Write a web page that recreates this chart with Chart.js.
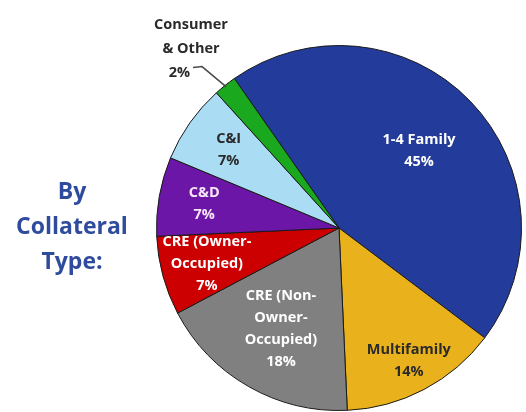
<!DOCTYPE html>
<html>
<head>
<meta charset="utf-8">
<script src="https://cdn.jsdelivr.net/npm/chart.js@4/dist/chart.umd.min.js"></script>
<style>
  html, body { margin: 0; padding: 0; background: #ffffff; }
  #wrap { position: relative; width: 526px; height: 412px; }
  canvas { display: block; }
</style>
</head>
<body>
<div id="wrap"><canvas id="c" width="526" height="412"></canvas></div>
<script>
// ---- Data ----
const categories = ["1-4 Family", "Multifamily", "CRE (Non-Owner-Occupied)", "CRE (Owner-Occupied)", "C&D", "C&I", "Consumer & Other"];
const shares = [45, 14, 18, 7, 7, 7, 2];
const labelLines = [
  ["1-4 Family"],
  ["Multifamily"],
  ["CRE (Non-", "Owner-", "Occupied)"],
  ["CRE (Owner-", "Occupied)"],
  ["C&D"],
  ["C&I"],
  ["Consumer", "& Other"]
];
const sideTitle = ["By", "Collateral", "Type:"];

// ---- Styles ----
const sliceColors = ["#233b9b", "#e9b21c", "#808080", "#cc0000", "#6c16a8", "#aadcf4", "#19a81e"];
const textColors = ["#ffffff", "#2a2a2a", "#ffffff", "#ffffff", "#f6e6f6", "#2a2a2a", "#2a2a2a"];
const labelRadius = [0.61, 0.82, 0.64, 0.75, 0.75, 0.74, null];
const labelFont = "bold 14.5px 'Open Sans', sans-serif";
const lineGap = 22;

const labelPlugin = {
  id: 'sliceLabels',
  afterDatasetsDraw(chart) {
    const ctx = chart.ctx;
    const meta = chart.getDatasetMeta(0);
    ctx.save();
    ctx.font = labelFont;
    ctx.textBaseline = 'middle';
    meta.data.forEach((arc, i) => {
      const p = arc.getProps(['x', 'y', 'startAngle', 'endAngle', 'outerRadius'], true);
      const mid = (p.startAngle + p.endAngle) / 2;
      const lines = labelLines[i].concat([shares[i] + '%']);
      ctx.fillStyle = textColors[i];
      if (labelRadius[i] !== null) {
        const cx = p.x + Math.cos(mid) * p.outerRadius * labelRadius[i];
        const cy = p.y + Math.sin(mid) * p.outerRadius * labelRadius[i];
        const top = cy - (lines.length - 1) * lineGap / 2;
        ctx.textAlign = 'center';
        lines.forEach((t, k) => ctx.fillText(t, cx, top + k * lineGap));
      } else {
        // outside label with leader line
        const la = mid - 0.03;
        const ex = p.x + Math.cos(mid) * p.outerRadius * 0.99;
        const ey = p.y + Math.sin(mid) * p.outerRadius * 0.99;
        const bx = p.x + Math.cos(la) * p.outerRadius * 1.16;
        const by = p.y + Math.sin(la) * p.outerRadius * 1.16;
        const hx = bx - 9;
        ctx.strokeStyle = '#4a4a4a';
        ctx.lineWidth = 1.5;
        ctx.beginPath();
        ctx.moveTo(ex, ey);
        ctx.lineTo(bx, by);
        ctx.lineTo(hx, by + 1);
        ctx.stroke();
        ctx.fillStyle = '#2a2a2a';
        ctx.textAlign = 'right';
        ctx.fillText(lines[lines.length - 1], hx - 3, by + 6);
        ctx.textAlign = 'center';
        for (let k = 0; k < lines.length - 1; k++) {
          ctx.fillText(lines[k], hx - 2, by + 6 - (lines.length - 1 - k) * 24);
        }
      }
    });
    // side title
    ctx.fillStyle = '#2f4b9d';
    ctx.font = "bold 23px 'Open Sans', sans-serif";
    ctx.textAlign = 'center';
    sideTitle.forEach((t, k) => ctx.fillText(t, 72, 192 + k * 35));
    ctx.restore();
  }
};

new Chart(document.getElementById('c'), {
  type: 'pie',
  data: {
    labels: categories,
    datasets: [{
      data: shares,
      backgroundColor: sliceColors,
      borderColor: '#1a1a1a',
      borderWidth: 1
    }]
  },
  options: {
    responsive: false,
    animation: false,
    rotation: -35,
    layout: { padding: { left: 156, right: 4, top: 45, bottom: 1 } },
    plugins: {
      legend: { display: false },
      tooltip: { enabled: false },
      title: { display: false }
    }
  },
  plugins: [labelPlugin]
});
</script>
</body>
</html>
